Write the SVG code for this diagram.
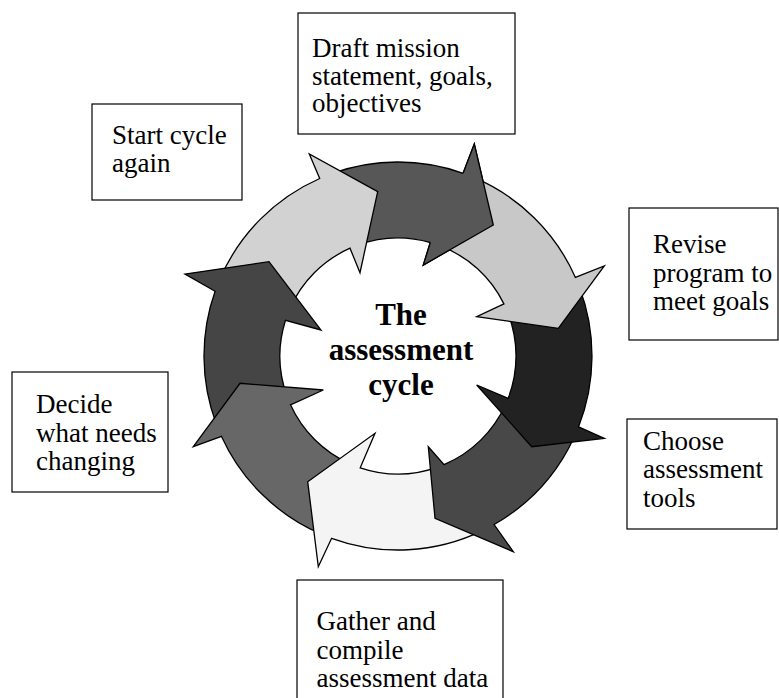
<svg xmlns="http://www.w3.org/2000/svg" width="779" height="698" viewBox="0 0 779 698">
<style>
.box{fill:#fff;stroke:#000;stroke-width:1.2}
.lbl{font-family:"Liberation Serif","Times New Roman",serif;font-size:27px;fill:#000}
.ctr{font-family:"Liberation Serif","Times New Roman",serif;font-size:31px;font-weight:bold;fill:#000;text-anchor:middle}
.arr{stroke:#000;stroke-width:1.3;stroke-linejoin:miter}
</style>
<rect width="779" height="698" fill="#fff"/>
<g id="connectors">
<path id="arrow-a" class="arr" fill="#575757" d="M331.6,173.7 A194,194 0 0 1 463.1,173.3 L474.3,144 L493.3,225 L423.3,265 L430.3,242.5 A118,118 0 0 0 357.6,245.1 Z"/>
<path id="arrow-h" class="arr" fill="#d2d2d2" d="M220.1,278.6 A194,194 0 0 1 319.7,178.5 L309.3,154 L377.7,191.7 L360,272.7 L350,248.2 A118,118 0 0 0 290.2,308 Z"/>
<path id="arrow-g" class="arr" fill="#454545" d="M216.3,423.9 A194,194 0 0 1 215.1,291.2 L185,274 L269,261.7 L321,330 L285.5,320.3 A118,118 0 0 0 287.1,396.4 Z"/>
<path id="arrow-f" class="arr" fill="#676767" d="M320.6,533.9 A194,194 0 0 1 221.5,436.4 L193.3,446.7 L240,383.3 L323.3,390 L290.5,404.8 A118,118 0 0 0 350,463.8 Z"/>
<path id="arrow-e" class="arr" fill="#f4f4f4" d="M483,530.4 A194,194 0 0 1 331.6,538.3 L318.3,566.7 L307.7,481.7 L375,433.3 L360.2,467.8 A118,118 0 0 0 438.4,466.9 Z"/>
<path id="arrow-d" class="arr" fill="#484848" d="M573.8,438 A194,194 0 0 1 494.1,524.5 L513.3,551.7 L435,518.3 L428.3,446.7 L444.1,464.6 A118,118 0 0 0 505.8,404 Z"/>
<path id="arrow-c" class="arr" fill="#222222" d="M579.7,288.1 A194,194 0 0 1 578.6,426.8 L604.3,438.3 L531.7,446.7 L476.7,385 L508.2,398.3 A118,118 0 0 0 507.4,311.8 Z"/>
<path id="arrow-b" class="arr" fill="#c8c8c8" d="M473.8,177.4 A194,194 0 0 1 575.4,277.4 L604.3,266 L558.3,328.3 L476.7,316.7 L503.9,303.9 A118,118 0 0 0 440.3,245.8 Z"/>
<path id="arrow-a-head" class="arr" fill="#575757" d="M463.1,173.3 L474.3,144 L493.3,225 L423.3,265 L430.3,242.5"/>
</g>
<g id="center-title">
<text class="ctr" x="401" y="325">The</text>
<text class="ctr" x="401" y="360">assessment</text>
<text class="ctr" x="401" y="395">cycle</text>
</g>
<g id="node-draft">
<rect class="box" x="298" y="13" width="217" height="121"/>
<text class="lbl" x="312" y="57">Draft mission</text>
<text class="lbl" x="312" y="84.5">statement, goals,</text>
<text class="lbl" x="312" y="112">objectives</text>
</g>
<g id="node-revise">
<rect class="box" x="629" y="208" width="149" height="132"/>
<text class="lbl" x="653" y="253">Revise</text>
<text class="lbl" x="653" y="281.5">program to</text>
<text class="lbl" x="653" y="310">meet goals</text>
</g>
<g id="node-choose">
<rect class="box" x="627" y="419" width="150" height="110"/>
<text class="lbl" x="643" y="449.5">Choose</text>
<text class="lbl" x="643" y="478">assessment</text>
<text class="lbl" x="643" y="506.5">tools</text>
</g>
<g id="node-gather">
<rect class="box" x="297" y="580" width="206" height="130"/>
<text class="lbl" x="316.5" y="630">Gather and</text>
<text class="lbl" x="316.5" y="658.5">compile</text>
<text class="lbl" x="316.5" y="687">assessment data</text>
</g>
<g id="node-decide">
<rect class="box" x="12" y="372" width="156" height="120"/>
<text class="lbl" x="36" y="413">Decide</text>
<text class="lbl" x="36" y="441.5">what needs</text>
<text class="lbl" x="36" y="470">changing</text>
</g>
<g id="node-start">
<rect class="box" x="92" y="104" width="150" height="96"/>
<text class="lbl" x="112" y="144">Start cycle</text>
<text class="lbl" x="112" y="171.5">again</text>
</g>
</svg>
